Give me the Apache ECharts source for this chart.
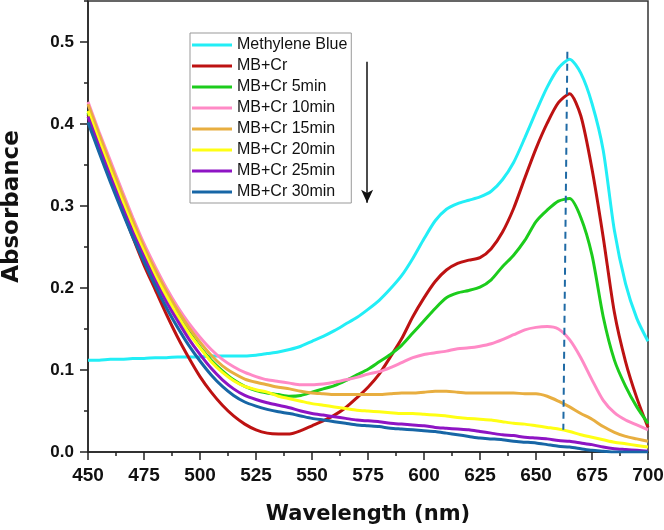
<!DOCTYPE html>
<html>
<head>
<meta charset="utf-8">
<script src="https://cdn.jsdelivr.net/npm/echarts@6/dist/echarts.min.js"></script>
<style>
  html, body { margin: 0; padding: 0; background: #fff; }
  #chart-01 { width: 664px; height: 530px; }
</style>
</head>
<body>
<div id="chart-01"></div>
<script>
// wavelength grid (nm)
var wavelength = [450,455,460,465,470,475,480,485,490,495,500,505,510,515,520,525,530,535,540,545,
  550,555,560,565,570,575,580,585,590,595,600,605,610,615,620,625,630,635,640,645,
  650,655,660,665,670,675,680,685,690,695,700];

var seriesNames = ['Methylene Blue','MB+Cr','MB+Cr 5min','MB+Cr 10min','MB+Cr 15min','MB+Cr 20min','MB+Cr 25min','MB+Cr 30min'];

var mb = [0.112,0.112,0.113,0.113,0.114,0.114,0.115,0.115,0.116,0.116,0.116,0.117,0.117,0.117,0.117,0.118,0.120,0.122,0.125,0.129,
  0.135,0.141,0.148,0.156,0.164,0.174,0.185,0.199,0.215,0.236,0.260,0.282,0.296,0.303,0.307,0.311,0.318,0.332,0.353,0.383,
  0.415,0.445,0.468,0.479,0.462,0.425,0.368,0.270,0.205,0.163,0.135];
var mbCr = [0.412,0.372,0.335,0.298,0.262,0.228,0.198,0.168,0.140,0.115,0.092,0.073,0.057,0.044,0.034,0.027,0.023,0.022,0.022,0.026,
  0.032,0.038,0.045,0.054,0.066,0.079,0.095,0.116,0.138,0.165,0.188,0.208,0.222,0.230,0.234,0.237,0.248,0.268,0.297,0.334,
  0.370,0.401,0.426,0.437,0.410,0.345,0.262,0.170,0.110,0.066,0.030];
var mbCr5 = [0.414,0.377,0.342,0.308,0.275,0.245,0.217,0.192,0.168,0.147,0.128,0.112,0.099,0.088,0.080,0.075,0.072,0.070,0.068,0.069,
  0.073,0.077,0.081,0.087,0.094,0.101,0.110,0.119,0.130,0.145,0.160,0.175,0.188,0.194,0.197,0.201,0.210,0.226,0.240,0.258,
  0.281,0.295,0.306,0.309,0.286,0.240,0.165,0.112,0.080,0.055,0.035];
var mbCr10 = [0.427,0.390,0.355,0.320,0.286,0.254,0.226,0.200,0.177,0.157,0.140,0.125,0.113,0.104,0.097,0.092,0.088,0.086,0.084,0.082,
  0.082,0.083,0.085,0.088,0.091,0.095,0.098,0.103,0.109,0.115,0.119,0.121,0.123,0.126,0.127,0.129,0.132,0.137,0.143,0.149,
  0.152,0.153,0.150,0.137,0.115,0.088,0.063,0.048,0.039,0.033,0.027];
var mbCr15 = [0.424,0.387,0.351,0.316,0.282,0.250,0.222,0.196,0.173,0.152,0.134,0.118,0.105,0.096,0.089,0.085,0.082,0.079,0.077,0.074,
  0.072,0.071,0.070,0.070,0.070,0.070,0.070,0.071,0.072,0.072,0.073,0.074,0.074,0.073,0.072,0.072,0.072,0.072,0.072,0.071,
  0.071,0.068,0.062,0.055,0.047,0.040,0.031,0.024,0.019,0.016,0.013];
var mbCr20 = [0.416,0.379,0.343,0.308,0.275,0.244,0.215,0.190,0.166,0.145,0.127,0.110,0.097,0.087,0.080,0.076,0.073,0.068,0.065,0.062,
  0.059,0.057,0.055,0.053,0.051,0.050,0.049,0.048,0.047,0.047,0.046,0.045,0.044,0.042,0.041,0.040,0.039,0.037,0.035,0.034,
  0.032,0.030,0.028,0.025,0.021,0.018,0.015,0.012,0.010,0.008,0.006];
var mbCr25 = [0.409,0.372,0.336,0.301,0.268,0.238,0.209,0.183,0.160,0.138,0.119,0.102,0.088,0.077,0.069,0.064,0.060,0.057,0.054,0.050,
  0.047,0.045,0.043,0.041,0.039,0.038,0.037,0.035,0.034,0.033,0.032,0.030,0.029,0.028,0.027,0.025,0.023,0.021,0.020,0.018,
  0.017,0.016,0.014,0.013,0.011,0.009,0.006,0.004,0.003,0.002,0.001];
var mbCr30 = [0.402,0.365,0.329,0.295,0.262,0.232,0.203,0.176,0.152,0.130,0.111,0.094,0.080,0.069,0.061,0.056,0.052,0.049,0.047,0.044,
  0.041,0.039,0.037,0.035,0.033,0.032,0.031,0.029,0.028,0.027,0.026,0.025,0.023,0.021,0.019,0.017,0.016,0.015,0.013,0.012,
  0.011,0.009,0.007,0.006,0.004,0.002,0.001,0.000,0.000,0.000,0.000];

var yTicks = [0, 0.1, 0.2, 0.3, 0.4, 0.5];

// annotations in data coordinates
var peakLine = [[664, 0.488], [662.2, 0.027]];
var timeArrow = [[574.6, 0.476], [574.6, 0.304]];

var colors = ['#22eef6','#bd1212','#1ccc1c','#ff8ac6','#e8ae40','#ffff14','#8e14c4','#1766a6'];
var allData = [mb, mbCr, mbCr5, mbCr10, mbCr15, mbCr20, mbCr25, mbCr30];

function pairs(vals) {
    return wavelength.map(function (w, i) { return [w, vals[i]]; });
}

var series = allData.map(function (vals, i) {
    return {
        name: seriesNames[i],
        type: 'line',
        smooth: 0.25,
        symbol: 'none',
        showSymbol: false,
        lineStyle: { width: 3, color: colors[i] },
        itemStyle: { color: colors[i] },
        data: pairs(vals)
    };
});

series[0].markLine = {
    silent: true,
    symbol: 'none',
    label: { show: false },
    lineStyle: { type: [7, 5], color: '#1f6aa5', width: 2 },
    data: [[{ coord: peakLine[0] }, { coord: peakLine[1] }]]
};
series[1].markLine = {
    silent: true,
    symbol: ['none', 'arrow'],
    symbolSize: [9, 13],
    label: { show: false },
    lineStyle: { type: 'solid', color: '#111', width: 1.5 },
    data: [[{ coord: timeArrow[0] }, { coord: timeArrow[1] }]]
};

var myChart01 = echarts.init(document.getElementById('chart-01'));
var option01 = {
    animation: false,
    color: colors,
    grid: {
        left: 88,
        right: 16,
        top: 1,
        bottom: 78,
        outerBoundsMode: 'none',
        containLabel: false,
        show: true,
        borderColor: '#333',
        borderWidth: 1.5
    },
    legend: {
        orient: 'vertical',
        left: 190,
        top: 33,
        padding: [4, 4, 3, 2],
        itemGap: 5,
        itemWidth: 40,
        itemHeight: 3,
        icon: 'rect',
        borderColor: '#999',
        borderWidth: 1,
        textStyle: { fontFamily: 'Liberation Sans, Arial', fontSize: 16, lineHeight: 16, color: '#111' },
        data: seriesNames
    },
    xAxis: {
        type: 'value',
        min: 450,
        max: 700,
        interval: 25,
        name: 'Wavelength (nm)',
        nameLocation: 'middle',
        nameGap: 52,
        nameTextStyle: { fontFamily: 'DejaVu Sans', fontWeight: 'bold', fontSize: 21, color: '#111' },
        axisLine: { lineStyle: { color: '#222', width: 1.5 } },
        axisTick: { length: 8, lineStyle: { color: '#222', width: 1.5 } },
        minorTick: { show: true, splitNumber: 2, length: 4, lineStyle: { color: '#222', width: 1.5 } },
        splitLine: { show: false },
        axisLabel: { margin: 14, fontFamily: 'Liberation Sans, Arial', fontWeight: 'bold', fontSize: 19, color: '#111' }
    },
    yAxis: [
        {
            type: 'value',
            min: 0,
            max: 0.55,
            interval: 0.1,
            name: 'Absorbance',
            nameLocation: 'middle',
            nameGap: 64,
            nameTextStyle: { fontFamily: 'DejaVu Sans', fontWeight: 'bold', fontSize: 23, color: '#111', padding: [0, 0, 0, 40] },
            axisLine: { lineStyle: { color: '#222', width: 1.5 } },
            axisTick: { length: 8, customValues: yTicks, lineStyle: { color: '#222', width: 1.5 } },
            splitLine: { show: false },
            axisLabel: {
                margin: 14,
                customValues: yTicks,
                fontFamily: 'Liberation Sans, Arial', fontWeight: 'bold', fontSize: 17, color: '#111',
                formatter: function (v) { return v.toFixed(1); }
            }
        },
        {
            type: 'value',
            position: 'left',
            min: 0,
            max: 0.55,
            interval: 0.05,
            axisLine: { show: false },
            axisTick: { length: 4, lineStyle: { color: '#222', width: 1.5 } },
            splitLine: { show: false },
            axisLabel: { show: false }
        }
    ],
    series: series
};
myChart01.setOption(option01);
</script>
</body>
</html>
